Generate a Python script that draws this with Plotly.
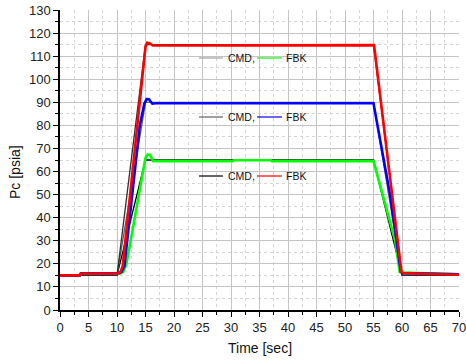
import plotly.graph_objects as go

# ---------------- data ----------------
cmd_t = [0, 10, 15, 55, 60, 70]
cmd_115 = [15, 15, 115, 115, 15, 15]
cmd_90 = [15, 15, 90, 90, 15, 15]
cmd_65 = [15, 15, 65, 65, 15, 15]

red_t = [0, 3.4, 3.6, 10.2, 10.6, 11.0, 15.0, 15.3, 15.7, 16.3, 17.5, 30, 31, 45, 55.1, 59.9, 60.2, 65, 70]
red_v = [15.0, 15.0, 15.8, 15.8, 16.5, 19.0, 114.0, 115.8, 115.6, 114.6, 114.6, 114.7, 114.8, 114.8, 114.8, 16.5, 16.0, 15.6, 15.3]

blue_t = [0, 3.5, 3.7, 10.4, 10.8, 11.3, 14.0, 14.8, 15.2, 15.6, 16.2, 16.8, 55.0, 57.9, 59.8, 60.1, 70]
blue_v = [15.0, 15.0, 15.9, 15.9, 16.5, 19.0, 80.0, 89.5, 91.4, 91.3, 89.4, 89.6, 89.6, 50.0, 16.5, 16.0, 15.5]

green_t = [0, 3.5, 3.7, 10.6, 11.1, 11.6, 12.1, 14.5, 15.0, 15.4, 15.8, 16.3, 17.0, 30.3, 30.5, 37.0, 37.2, 55.0, 57.0, 58.8, 59.6, 60.0, 70]
green_v = [15.0, 15.0, 15.8, 15.8, 16.5, 19.5, 26.0, 60.7, 66.0, 67.4, 67.2, 64.6, 64.5, 64.5, 64.9, 64.9, 64.5, 64.5, 46.0, 30.0, 16.5, 16.2, 15.5]

legend_rows = [
    ("CMD,", "#a0a0a0", "FBK", "#00ff00"),
    ("CMD,", "#606060", "FBK", "#0000ff"),
    ("CMD,", "#000000", "FBK", "#ff0000"),
]

x_ticks = list(range(0, 75, 5))
y_ticks = list(range(0, 140, 10))

# ---------------- layout helpers ----------------
W, H = 466, 360
L, R, T, B = 60, 7, 10, 50
PW, PH = W - L - R, H - T - B


def px(x_screen):
    return (x_screen - L) / PW


def py(y_screen):
    return (H - B - y_screen) / PH


fig = go.Figure()
fig.add_trace(go.Scatter(x=cmd_t, y=cmd_65, mode="lines", line=dict(color="#000000", width=1.3), showlegend=False))
fig.add_trace(go.Scatter(x=cmd_t, y=cmd_90, mode="lines", line=dict(color="#606060", width=1.3), showlegend=False))
fig.add_trace(go.Scatter(x=cmd_t, y=cmd_115, mode="lines", line=dict(color="#303030", width=1.3), showlegend=False))
fig.add_trace(go.Scatter(x=green_t, y=green_v, mode="lines", line=dict(color="#00ff00", width=2.6), showlegend=False))
fig.add_trace(go.Scatter(x=blue_t, y=blue_v, mode="lines", line=dict(color="#0000ff", width=2.6), showlegend=False))
fig.add_trace(go.Scatter(x=red_t, y=red_v, mode="lines", line=dict(color="#ff0000", width=2.6), showlegend=False))

shapes = []
annotations = []
row_y = [58, 117, 176]
for (c_lab, c_col, f_lab, f_col), yy in zip(legend_rows, row_y):
    shapes.append(dict(type="rect", xref="paper", yref="paper", x0=px(193), x1=px(310),
                       y0=py(yy + 8), y1=py(yy - 8), fillcolor="white", line=dict(width=0), layer="below"))
    shapes.append(dict(type="line", xref="paper", yref="paper", x0=px(199), x1=px(223),
                       y0=py(yy), y1=py(yy), line=dict(color=c_col, width=1.2)))
    shapes.append(dict(type="line", xref="paper", yref="paper", x0=px(257), x1=px(282),
                       y0=py(yy), y1=py(yy), line=dict(color=f_col, width=1.2)))
    annotations.append(dict(xref="paper", yref="paper", x=px(226), y=py(yy), text=c_lab, showarrow=False,
                            xanchor="left", yanchor="middle", font=dict(size=10.5, color="#111")))
    annotations.append(dict(xref="paper", yref="paper", x=px(284), y=py(yy), text=f_lab, showarrow=False,
                            xanchor="left", yanchor="middle", font=dict(size=10.5, color="#111")))

annotations.append(dict(xref="paper", yref="paper", x=px(260), y=py(348), text="Time [sec]", showarrow=False,
                        xanchor="center", yanchor="middle", font=dict(size=14, color="#111")))
annotations.append(dict(xref="paper", yref="paper", x=px(15), y=py(172), text="Pc [psia]", showarrow=False,
                        textangle=-90, xanchor="center", yanchor="middle", font=dict(size=14, color="#111")))

axis_common = dict(
    showline=True, linecolor="black", linewidth=1.5,
    ticks="outside", ticklen=5, tickwidth=1.2, tickcolor="black",
    showgrid=True, gridcolor="#c4c4c4", gridwidth=1,
    zeroline=False, mirror=False, automargin=False,
    ticklabeloverflow="allow",
    tickfont=dict(size=13, color="#222"),
)

fig.update_layout(
    width=W, height=H,
    margin=dict(l=L, r=R, t=T, b=B, autoexpand=False),
    paper_bgcolor="white", plot_bgcolor="white",
    font=dict(family="Liberation Sans, Arial, sans-serif"),
    shapes=shapes, annotations=annotations,
    xaxis=dict(range=[0, 70], tickvals=x_ticks, ticktext=[str(v) for v in x_ticks],
               minor=dict(dtick=2.5, tick0=0, ticks="outside", ticklen=3, tickcolor="black",
                          showgrid=True, gridcolor="#d4d4d4", griddash="dot"),
               **axis_common),
    yaxis=dict(range=[0, 130], tickvals=y_ticks, ticktext=[str(v) for v in y_ticks],
               minor=dict(dtick=5, tick0=0, ticks="outside", ticklen=3, tickcolor="black",
                          showgrid=True, gridcolor="#d4d4d4", griddash="dot"),
               **axis_common),
)

fig.write_html("out.html", config={"displayModeBar": False},
               post_script="document.body.style.margin='0';document.body.style.padding='0';")
